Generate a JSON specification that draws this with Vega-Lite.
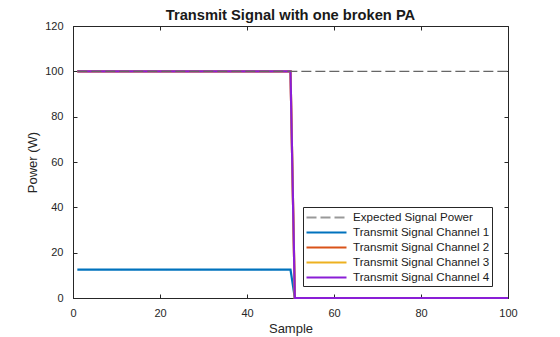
{
  "$schema": "https://vega.github.io/schema/vega-lite/v6.json",
  "width": 435,
  "height": 272,
  "autosize": "none",
  "padding": {"left": 73, "top": 26, "right": 52, "bottom": 39},
  "background": "white",
  "title": {"text": "Transmit Signal with one broken PA", "font": "Liberation Sans", "fontSize": 14.7, "fontWeight": "bold", "color": "#1a1a1a", "offset": -3},
  "config": {
    "view": {"stroke": "#262626", "strokeWidth": 1},
    "axis": {"labelFont": "Liberation Sans", "titleFont": "Liberation Sans", "labelFontSize": 11, "titleFontSize": 13, "titleFontWeight": "normal", "labelColor": "#262626", "titleColor": "#262626", "domainColor": "#262626", "tickColor": "#262626", "grid": false, "tickSize": -4, "labelFlush": false}
  },
  "data": {"values": [
    {"sample": 1, "power": 100, "series": "Expected Signal Power"},
    {"sample": 100, "power": 100, "series": "Expected Signal Power"},
    {"sample": 1, "power": 12.5, "series": "Transmit Signal Channel 1"},
    {"sample": 50, "power": 12.5, "series": "Transmit Signal Channel 1"},
    {"sample": 51, "power": 0, "series": "Transmit Signal Channel 1"},
    {"sample": 100, "power": 0, "series": "Transmit Signal Channel 1"},
    {"sample": 1, "power": 100, "series": "Transmit Signal Channel 2"},
    {"sample": 50, "power": 100, "series": "Transmit Signal Channel 2"},
    {"sample": 51, "power": 0, "series": "Transmit Signal Channel 2"},
    {"sample": 100, "power": 0, "series": "Transmit Signal Channel 2"},
    {"sample": 1, "power": 100, "series": "Transmit Signal Channel 3"},
    {"sample": 50, "power": 100, "series": "Transmit Signal Channel 3"},
    {"sample": 51, "power": 0, "series": "Transmit Signal Channel 3"},
    {"sample": 100, "power": 0, "series": "Transmit Signal Channel 3"},
    {"sample": 1, "power": 100, "series": "Transmit Signal Channel 4"},
    {"sample": 50, "power": 100, "series": "Transmit Signal Channel 4"},
    {"sample": 51, "power": 0, "series": "Transmit Signal Channel 4"},
    {"sample": 100, "power": 0, "series": "Transmit Signal Channel 4"}
  ]},
  "resolve": {"axis": {"x": "independent", "y": "independent"}},
  "layer": [
    {
      "transform": [{"filter": "datum.series !== 'Expected Signal Power'"}],
      "mark": {"type": "line", "strokeWidth": 2.2, "clip": false},
      "encoding": {
        "x": {"field": "sample", "type": "quantitative", "scale": {"domain": [0, 100], "nice": false}, "axis": {"title": "Sample", "values": [0, 20, 40, 60, 80, 100], "labelPadding": 13, "titlePadding": 4}},
        "y": {"field": "power", "type": "quantitative", "scale": {"domain": [0, 120], "nice": false}, "axis": {"title": "Power (W)", "values": [0, 20, 40, 60, 80, 100, 120], "labelPadding": 14, "titlePadding": 5}},
        "color": {"field": "series", "type": "nominal",
          "scale": {"domain": ["Expected Signal Power", "Transmit Signal Channel 1", "Transmit Signal Channel 2", "Transmit Signal Channel 3", "Transmit Signal Channel 4"], "range": ["#999999", "#0072BD", "#D95319", "#EDB120", "#8A1ED6"]},
          "legend": {"title": null, "orient": "none", "legendX": 230, "legendY": 181, "symbolType": "M-2.857,0H2.857", "symbolSize": 196, "symbolOffset": 13, "symbolStrokeWidth": 2.2, "labelFont": "Liberation Sans", "labelFontSize": 11.6, "labelColor": "#1a1a1a", "rowPadding": -3, "padding": 2, "labelOffset": 18, "strokeColor": "#262626", "fillColor": "white"}},
        "strokeDash": {"field": "series", "type": "nominal",
          "scale": {"domain": ["Expected Signal Power", "Transmit Signal Channel 1", "Transmit Signal Channel 2", "Transmit Signal Channel 3", "Transmit Signal Channel 4"], "range": [[10, 4], [1, 0], [1, 0], [1, 0], [1, 0]]},
          "legend": null}
      }
    },
    {
      "transform": [{"filter": "datum.series === 'Expected Signal Power'"}],
      "mark": {"type": "line", "strokeWidth": 1.3, "strokeDash": [10, 4], "color": "#666666", "clip": false},
      "encoding": {
        "x": {"field": "sample", "type": "quantitative", "scale": {"domain": [0, 100], "nice": false}, "axis": {"orient": "top", "labels": false, "title": null, "values": [0, 20, 40, 60, 80, 100], "domain": false}},
        "y": {"field": "power", "type": "quantitative", "scale": {"domain": [0, 120], "nice": false}, "axis": {"orient": "right", "labels": false, "title": null, "values": [0, 20, 40, 60, 80, 100, 120], "domain": false}}
      }
    }
  ]
}
